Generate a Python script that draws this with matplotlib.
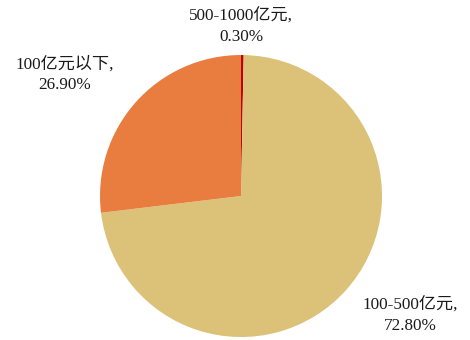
import matplotlib
matplotlib.use("Agg")
import matplotlib.pyplot as plt

# data
labels = ["500-1000亿元", "100-500亿元", "100亿元以下"]
shares = [0.30, 72.80, 26.90]
colors = ["#C00000", "#DCC278", "#E97D40"]

plt.rcParams["font.family"] = ["Liberation Serif", "Noto Sans CJK SC"]

fig = plt.figure(figsize=(4.7, 3.4), dpi=100)
ax = fig.add_axes([0.2128, 0.0088, 0.6, 0.8294])

wedges, _ = ax.pie(shares, colors=colors, startangle=90, counterclock=False,
                   radius=1.0, wedgeprops=dict(linewidth=0))
ax.set_xlim(-1, 1)
ax.set_ylim(-1, 1)
ax.set_aspect("equal")

# label positions in data units (radius = 1)
label_pos = [(0.0, 1.2), (1.20, -0.85), (-1.25, 0.86)]
for lab, val, (x, y) in zip(labels, shares, label_pos):
    ax.text(x, y, f"{lab},\n{val:.2f}%", ha="center", va="center",
            fontsize=12.3, color="#1a1a1a", linespacing=1.4, clip_on=False)

fig.savefig("out.png", dpi=100)
